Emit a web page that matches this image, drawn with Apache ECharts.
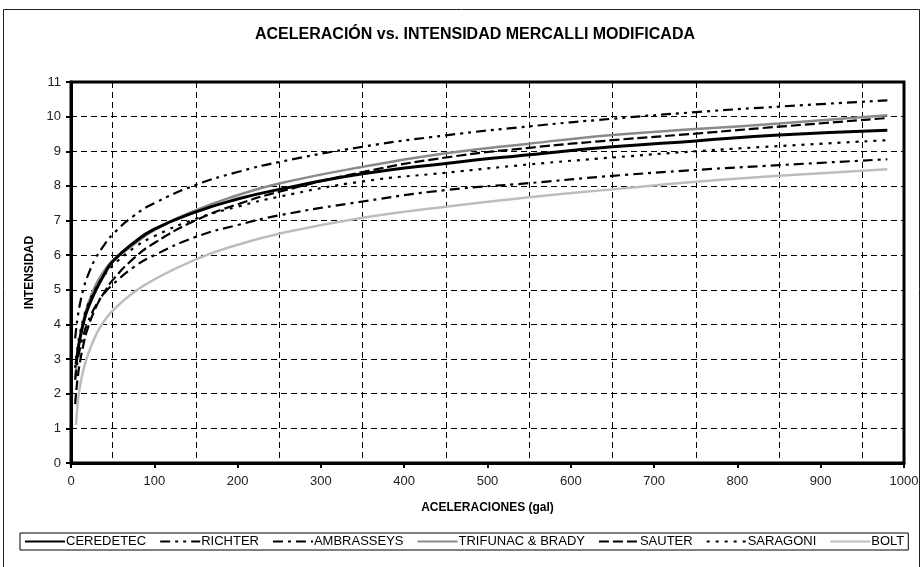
<!DOCTYPE html>
<html>
<head>
<meta charset="utf-8">
<script src="https://cdn.jsdelivr.net/npm/echarts@6/dist/echarts.min.js"></script>
<style>
html,body{margin:0;padding:0;background:#fff;}
#chart{width:922px;height:567px;}
</style>
</head>
<body>
<div id="chart"></div>
<script>
// Accelerations (gal) at which curves were read
var accel = [5, 6, 8, 10, 15, 20, 30, 40, 50, 75, 100, 150, 200, 250, 350, 450, 550, 650, 750, 850, 980];

var ceredetec  = [null, 2.85, 3.2, 3.5, 4.05, 4.45, 5.0, 5.45, 5.82, 6.35, 6.75, 7.25, 7.62, 7.9, 8.35, 8.65, 8.9, 9.13, 9.3, 9.47, 9.61];
var richter    = [3.6, 3.83, 4.2, 4.5, 5.03, 5.4, 5.93, 6.3, 6.6, 7.13, 7.5, 8.03, 8.4, 8.69, 9.13, 9.46, 9.72, 9.94, 10.13, 10.29, 10.47];
var ambraseys  = [2.4, 2.6, 2.95, 3.22, 3.7, 4.05, 4.55, 4.9, 5.15, 5.65, 6.0, 6.53, 6.87, 7.15, 7.55, 7.88, 8.08, 8.29, 8.46, 8.6, 8.77];
var trifunac   = [2.45, 2.7, 3.15, 3.5, 4.1, 4.55, 5.15, 5.55, 5.84, 6.3, 6.72, 7.3, 7.73, 8.07, 8.55, 8.94, 9.22, 9.47, 9.64, 9.8, 10.04];
var sauter     = [1.7, 2.0, 2.45, 2.8, 3.43, 3.88, 4.5, 4.93, 5.28, 5.9, 6.35, 7.01, 7.47, 7.83, 8.4, 8.82, 9.1, 9.32, 9.51, 9.71, 9.96];
var saragoni   = [2.75, 3.0, 3.35, 3.65, 4.18, 4.55, 5.05, 5.42, 5.7, 6.2, 6.55, 7.05, 7.4, 7.69, 8.13, 8.38, 8.62, 8.82, 9.0, 9.15, 9.32];
var bolt       = [null, 1.1, 1.7, 2.1, 2.7, 3.1, 3.7, 4.1, 4.4, 4.92, 5.3, 5.88, 6.3, 6.62, 7.08, 7.4, 7.67, 7.9, 8.12, 8.29, 8.48];

var seriesNames = ['CEREDETEC', 'RICHTER', 'AMBRASSEYS', 'TRIFUNAC & BRADY', 'SAUTER', 'SARAGONI', 'BOLT'];
var xTicks = {min: 0, max: 1000, interval: 100};
var yTicks = {min: 0, max: 11, interval: 1};

function pairs(vals) {
  var out = [];
  for (var i = 0; i < accel.length; i++) {
    if (vals[i] !== null) out.push([accel[i], vals[i]]);
  }
  return out;
}

var FONT = 'Liberation Sans, Arial, sans-serif';

function mk(name, vals, color, width, type, z) {
  return {
    name: name,
    type: 'line',
    data: pairs(vals),
    showSymbol: false,
    symbol: 'none',
    smooth: 0.5,
    z: z,
    lineStyle: {color: color, width: width, type: type},
    itemStyle: {color: color}
  };
}

var chart = echarts.init(document.getElementById('chart'), null, {renderer: 'canvas'});
chart.setOption({
  backgroundColor: '#fff',
  animation: false,
  title: {
    text: 'ACELERACIÓN vs. INTENSIDAD MERCALLI MODIFICADA',
    left: 470, top: 22, textAlign: 'center',
    textStyle: {fontFamily: FONT, fontSize: 16, fontWeight: 'bold', color: '#000'}
  },
  graphic: [{
    type: 'rect', silent: true, z: -10,
    shape: {x: 3.5, y: 9.5, width: 916, height: 600},
    style: {fill: 'none', stroke: '#222', lineWidth: 1}
  }],
  legend: {
    data: seriesNames,
    left: 20, top: 533,
    itemWidth: 40, itemHeight: 10, itemGap: 13,
    itemStyle: {opacity: 0},
    borderColor: '#000', borderWidth: 1, padding: [2, 4],
    textStyle: {fontFamily: FONT, fontSize: 13, color: '#000', padding: [0, 0, 0, -4]}
  },
  grid: {left: 71, right: 18, top: 82, bottom: 104, show: true, borderColor: '#000', borderWidth: 3, backgroundColor: 'transparent'},
  xAxis: {
    type: 'value', min: xTicks.min, max: xTicks.max, interval: xTicks.interval,
    name: 'ACELERACIONES (gal)', nameLocation: 'middle', nameGap: 39,
    nameTextStyle: {fontFamily: FONT, fontSize: 12, fontWeight: 'bold', color: '#000'},
    axisLine: {lineStyle: {color: '#000', width: 3}},
    axisTick: {show: true, length: 5, lineStyle: {color: '#000', width: 2}},
    axisLabel: {fontFamily: FONT, fontSize: 13, color: '#222', margin: 12, formatter: function (v) { return String(v); }},
    splitLine: {show: false},
    minorTick: {show: false, splitNumber: 2},
    minorSplitLine: {show: true, lineStyle: {color: '#000', width: 1, type: [6, 4]}}
  },
  yAxis: {
    type: 'value', min: yTicks.min, max: yTicks.max, interval: yTicks.interval,
    name: 'INTENSIDAD', nameLocation: 'middle', nameGap: 34, nameRotate: 90,
    nameTextStyle: {fontFamily: FONT, fontSize: 12, fontWeight: 'bold', color: '#000'},
    axisLine: {show: true, lineStyle: {color: '#000', width: 3}},
    axisTick: {show: true, length: 5, lineStyle: {color: '#000', width: 2}},
    axisLabel: {fontFamily: FONT, fontSize: 13, color: '#222', margin: 10},
    splitLine: {show: true, lineStyle: {color: '#000', width: 1, type: [6, 4]}}
  },
  series: [
    mk(seriesNames[0], ceredetec, '#000000', 3, 'solid', 10),
    mk(seriesNames[1], richter, '#000000', 2.2, [10, 5, 3, 5, 3, 5], 8),
    mk(seriesNames[2], ambraseys, '#000000', 2.2, [10, 5, 3, 5], 8),
    mk(seriesNames[3], trifunac, '#8a8a8a', 2.5, 'solid', 6),
    mk(seriesNames[4], sauter, '#000000', 2.2, [10, 4], 8),
    mk(seriesNames[5], saragoni, '#000000', 2.2, [3, 6], 8),
    mk(seriesNames[6], bolt, '#bdbdbd', 2.5, 'solid', 5)
  ]
});
</script>
</body>
</html>
